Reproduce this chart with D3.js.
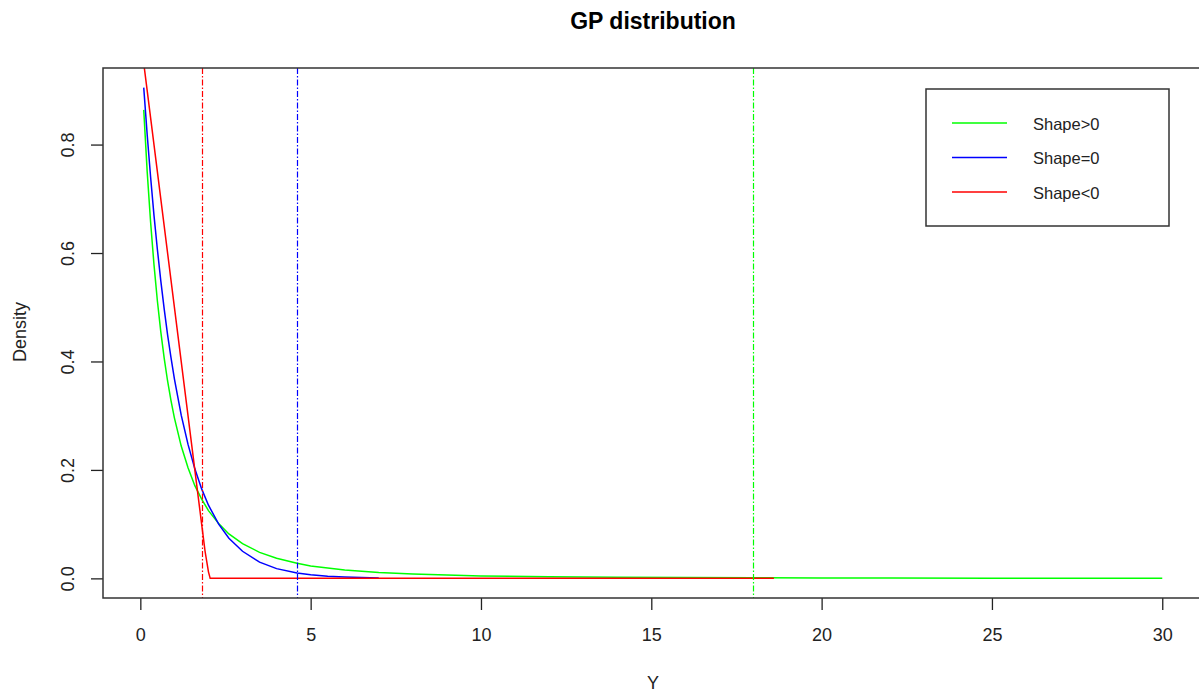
<!DOCTYPE html>
<html>
<head>
<meta charset="utf-8">
<script src="https://cdn.jsdelivr.net/npm/d3@7"></script>
<style>
  body { margin: 0; background: #fff; }
  svg { font-family: "Liberation Sans", Arial, sans-serif; }
</style>
</head>
<body>
<div id="chart"></div>
<script>
// values
const greenX = [0.1, 0.2, 0.3, 0.4, 0.5, 0.6, 0.7, 0.8, 0.9, 1.0, 1.2, 1.4, 1.6, 1.8, 2.0, 2.3, 2.6, 3.0, 3.5, 4.0, 4.6, 5.0, 6.0, 7.0, 8.0, 9.0, 10, 12, 14, 16, 18, 20, 22, 25, 28, 30];
const greenY = [0.864, 0.751, 0.658, 0.579, 0.512, 0.455, 0.406, 0.364, 0.328, 0.296, 0.244, 0.204, 0.171, 0.146, 0.125, 0.101, 0.082, 0.064, 0.048, 0.037, 0.028, 0.023, 0.0156, 0.011, 0.008, 0.006, 0.0046, 0.0029, 0.002, 0.0014, 0.001, 0.00075, 0.00058, 0.0004, 0.0003, 0.00024];

const blueX = [0.1, 0.2, 0.3, 0.4, 0.5, 0.6, 0.7, 0.8, 0.9, 1.0, 1.2, 1.4, 1.6, 1.8, 2.0, 2.3, 2.6, 3.0, 3.5, 4.0, 4.6, 5.0, 5.5, 6.0, 6.5, 7.0];
const blueY = [0.905, 0.819, 0.741, 0.670, 0.607, 0.549, 0.497, 0.449, 0.407, 0.368, 0.301, 0.247, 0.202, 0.165, 0.135, 0.100, 0.074, 0.050, 0.030, 0.018, 0.010, 0.0067, 0.0041, 0.0025, 0.0015, 0.0009];

const redX = [0.1, 0.3, 0.5, 0.7, 0.9, 1.1, 1.3, 1.5, 1.7, 1.8, 1.9, 2.0, 2.05, 5, 10, 15, 18.6];
const redY = [0.95, 0.85, 0.75, 0.65, 0.55, 0.45, 0.35, 0.25, 0.15, 0.10, 0.05, 0.012, 0, 0, 0, 0, 0];

const seriesNames = ['Shape>0', 'Shape=0', 'Shape<0'];
const seriesColors = ['#00ff00', '#0000ff', '#ff0000'];
const quantiles = [18.0, 4.605, 1.8];   // dash-dot reference lines

const xTicks = [0, 5, 10, 15, 20, 25, 30];
const yTicks = [0, 0.2, 0.4, 0.6, 0.8];

const series = [
  { x: greenX, y: greenY },
  { x: blueX, y: blueY },
  { x: redX, y: redY },
].map((s, i) => ({
  name: seriesNames[i],
  color: seriesColors[i],
  q: quantiles[i],
  points: s.x.map((v, j) => ({ x: v, y: s.y[j] })),
}));

const width = 1199;
const height = 692;
const margin = { top: 68, right: -4, bottom: 94, left: 103 };
const plotW = width - margin.left - margin.right;
const plotH = height - margin.top - margin.bottom;

const x = d3.scaleLinear().domain([-1.096, 31.196]).range([0, plotW]);
const y = d3.scaleLinear().domain([-0.0362, 0.9412]).range([plotH, 0]);

const svg = d3.select('#chart').append('svg')
  .attr('width', width)
  .attr('height', height);

svg.append('text')
  .attr('x', 653)
  .attr('y', 29)
  .attr('text-anchor', 'middle')
  .style('font-weight', 'bold')
  .style('font-size', '23px')
  .text('GP distribution');

const g = svg.append('g')
  .attr('transform', `translate(${margin.left}, ${margin.top})`);

g.append('clipPath')
  .attr('id', 'clip')
  .append('rect')
  .attr('width', plotW)
  .attr('height', plotH);

const plot = g.append('g').attr('clip-path', 'url(#clip)');

const line = d3.line()
  .x(d => x(d.x))
  .y(d => y(d.y));

plot.selectAll('path.curve')
  .data(series)
  .enter()
  .append('path')
  .attr('class', 'curve')
  .attr('fill', 'none')
  .attr('stroke', d => d.color)
  .attr('stroke-width', 1.5)
  .attr('d', d => line(d.points));

// dash-dot lines, snapped to the pixel grid so they stay bright
plot.selectAll('line.q')
  .data(series)
  .enter()
  .append('line')
  .attr('class', 'q')
  .attr('x1', d => Math.round(x(d.q)) + 0.5)
  .attr('x2', d => Math.round(x(d.q)) + 0.5)
  .attr('y1', 0)
  .attr('y2', plotH)
  .attr('stroke', d => d.color)
  .attr('stroke-width', 1.2)
  .attr('stroke-dasharray', '6,2,1.5,2');

const xAxis = d3.axisBottom(x)
  .tickValues(xTicks)
  .tickSize(12)
  .tickSizeOuter(0)
  .tickFormat(d3.format('d'));

const xg = g.append('g')
  .attr('transform', `translate(0, ${plotH})`)
  .call(xAxis);
xg.select('.domain').remove();
xg.selectAll('.tick line').attr('stroke', '#222').attr('stroke-width', 1.3);
xg.selectAll('.tick text')
  .attr('y', 43)
  .attr('dy', 0)
  .attr('fill', '#222')
  .style('font-size', '18px')
  .style('font-family', '"Liberation Sans", Arial, sans-serif');

const yAxis = d3.axisLeft(y)
  .tickValues(yTicks)
  .tickSize(12)
  .tickSizeOuter(0)
  .tickFormat(d3.format('.1f'));

const yg = g.append('g').call(yAxis);
yg.select('.domain').remove();
yg.selectAll('.tick line').attr('stroke', '#222').attr('stroke-width', 1.3);
yg.selectAll('.tick text')
  .attr('x', 0)
  .attr('dy', 0)
  .attr('text-anchor', 'middle')
  .attr('transform', 'translate(-29, 0) rotate(-90)')
  .attr('fill', '#222')
  .style('font-size', '18px')
  .style('font-family', '"Liberation Sans", Arial, sans-serif');

g.append('rect')
  .attr('width', plotW)
  .attr('height', plotH)
  .attr('fill', 'none')
  .attr('stroke', '#333')
  .attr('stroke-width', 1.5);

svg.append('text')
  .attr('x', 653)
  .attr('y', 689)
  .attr('text-anchor', 'middle')
  .attr('fill', '#222')
  .style('font-size', '18px')
  .text('Y');

svg.append('text')
  .attr('transform', 'translate(26, 332) rotate(-90)')
  .attr('text-anchor', 'middle')
  .attr('fill', '#222')
  .style('font-size', '18px')
  .text('Density');

// legend
const legend = svg.append('g').attr('transform', 'translate(926, 89)');
legend.append('rect')
  .attr('width', 243)
  .attr('height', 137)
  .attr('fill', '#fff')
  .attr('stroke', '#333')
  .attr('stroke-width', 1.5);

const items = legend.selectAll('g.item')
  .data(series)
  .enter()
  .append('g')
  .attr('class', 'item')
  .attr('transform', (d, i) => `translate(0, ${34 + i * 34.5})`);

items.append('line')
  .attr('x1', 26)
  .attr('x2', 81)
  .attr('stroke', d => d.color)
  .attr('stroke-width', 1.5);

items.append('text')
  .attr('x', 107)
  .attr('dy', '0.4em')
  .attr('fill', '#222')
  .style('font-size', '16.5px')
  .text(d => d.name);
</script>
</body>
</html>
